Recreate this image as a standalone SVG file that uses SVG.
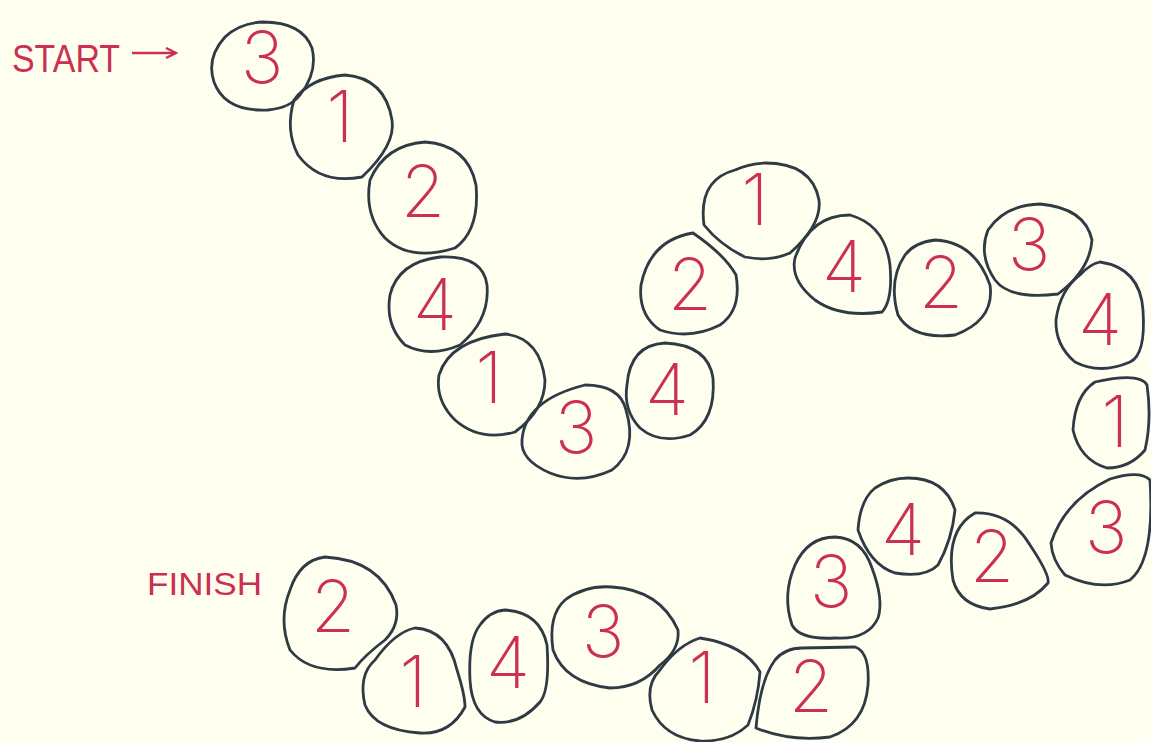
<svg xmlns="http://www.w3.org/2000/svg" width="1151" height="742" viewBox="0 0 1151 742">
<defs>
<style>
.bg{fill:#fffff0}
.st{fill:none;stroke:#2f3a44;stroke-width:2.8;stroke-linejoin:round;stroke-linecap:round}
.n{font-family:Inter,"Liberation Sans",sans-serif;font-weight:200;font-size:72px;fill:#cc2f4f;text-anchor:middle}
.lbl{font-family:"Liberation Sans",Arial,sans-serif;fill:#cc2f4f}
</style>
<marker id="ah" markerWidth="14" markerHeight="12" refX="12" refY="6" orient="auto" markerUnits="userSpaceOnUse">
<path d="M2 1 L12 6 L2 11" fill="none" stroke="#cc2f4f" stroke-width="2.4"/>
</marker>
</defs>
<rect class="bg" x="0" y="0" width="1151" height="742"/>
<g id="labels">
<text class="lbl" x="12" y="72" font-size="39" textLength="108" lengthAdjust="spacingAndGlyphs">START</text>
<text class="lbl" x="147" y="595" font-size="32" textLength="115" lengthAdjust="spacingAndGlyphs">FINISH</text>
</g>
<g id="connectors">
<line x1="132" y1="53" x2="176" y2="53" stroke="#cc2f4f" stroke-width="2.4" marker-end="url(#ah)"/>
</g>
<g id="s1"><path class="st" d="M263 22 Q302 22 312 48 Q318 72 300 95 Q290 108 268 110 Q225 112 214 82 Q206 58 225 37 Q240 23 263 22 Z"/><text class="n" x="262" y="83">3</text></g>
<g id="s2"><path class="st" d="M345 75 Q385 78 392 120 Q396 145 362 177 Q320 185 298 155 Q285 130 294 100 Q310 78 345 75 Z"/><text class="n" x="340" y="142">1</text></g>
<g id="s3"><path class="st" d="M425 142 Q468 145 476 185 Q480 230 455 248 Q410 262 385 238 Q364 215 370 180 Q385 145 425 142 Z"/><text class="n" x="423" y="217">2</text></g>
<g id="s4"><path class="st" d="M440 257 Q483 255 487 285 Q490 320 460 345 Q430 358 405 345 Q385 325 390 295 Q398 262 440 257 Z"/><text class="n" x="435" y="330">4</text></g>
<g id="s5"><path class="st" d="M505 334 Q540 338 545 380 Q545 410 515 432 Q480 442 455 420 Q435 400 439 375 Q450 340 505 334 Z"/><text class="n" x="489" y="403">1</text></g>
<g id="s6"><path class="st" d="M585 385 Q620 385 626 410 Q638 450 612 470 Q580 485 550 473 Q520 460 522 440 Q525 400 585 385 Z"/><text class="n" x="576" y="453">3</text></g>
<g id="s7"><path class="st" d="M665 343 Q708 345 713 378 Q716 420 690 435 Q660 445 640 428 Q623 410 627 385 Q630 345 665 343 Z"/><text class="n" x="667" y="415">4</text></g>
<g id="s8"><path class="st" d="M693 233 Q725 255 736 275 Q742 310 720 325 Q690 340 660 330 Q638 315 641 285 Q650 240 693 233 Z"/><text class="n" x="690" y="310">2</text></g>
<g id="s9"><path class="st" d="M765 163 Q812 163 819 200 Q822 225 790 253 Q770 262 745 257 Q720 245 704 225 Q698 180 735 170 Q748 164 765 163 Z"/><text class="n" x="755" y="225">1</text></g>
<g id="s10"><path class="st" d="M850 215 Q885 225 890 265 Q893 300 882 312 Q840 318 815 300 Q790 280 795 258 Q810 215 850 215 Z"/><text class="n" x="844" y="292">4</text></g>
<g id="s11"><path class="st" d="M935 240 Q975 242 990 285 Q995 320 955 335 Q912 340 898 315 Q888 280 905 255 Q915 242 935 240 Z"/><text class="n" x="941" y="308">2</text></g>
<g id="s12"><path class="st" d="M1040 204 Q1085 208 1092 240 Q1090 270 1058 294 Q1010 300 995 280 Q978 255 988 230 Q1005 205 1040 204 Z"/><text class="n" x="1029" y="270">3</text></g>
<g id="s13"><path class="st" d="M1100 262 Q1140 268 1143 310 Q1146 355 1130 362 Q1100 375 1075 362 Q1055 345 1056 320 Q1060 290 1080 275 Q1090 264 1100 262 Z"/><text class="n" x="1100" y="345">4</text></g>
<g id="s14"><path class="st" d="M1095 382 Q1140 372 1147 385 Q1152 420 1145 450 Q1130 468 1107 468 Q1080 460 1073 430 Q1075 395 1095 382 Z"/><text class="n" x="1115" y="447">1</text></g>
<g id="s15"><path class="st" d="M1110 479 Q1140 470 1150 480 Q1155 560 1130 580 Q1100 592 1065 575 Q1052 560 1051 543 Q1065 500 1110 479 Z"/><text class="n" x="1106" y="553">3</text></g>
<g id="s16"><path class="st" d="M975 513 Q1010 512 1030 545 Q1050 575 1048 583 Q1030 605 990 609 Q960 605 953 580 Q945 530 975 513 Z"/><text class="n" x="992" y="582">2</text></g>
<g id="s17"><path class="st" d="M908 478 Q945 478 955 510 Q952 540 938 565 Q925 578 895 573 Q870 565 858 530 Q860 500 875 488 Q890 478 908 478 Z"/><text class="n" x="903" y="555">4</text></g>
<g id="s18"><path class="st" d="M835 537 Q862 538 872 568 Q884 600 878 618 Q868 640 835 638 Q800 640 792 625 Q782 595 795 565 Q808 537 835 537 Z"/><text class="n" x="831" y="607">3</text></g>
<g id="s19"><path class="st" d="M802 648 L855 647 Q870 652 868 685 Q865 725 830 737 Q790 742 756 728 Q760 680 775 660 Q785 648 802 648 Z"/><text class="n" x="811" y="712">2</text></g>
<g id="s20"><path class="st" d="M700 638 Q745 645 760 672 Q758 700 748 725 Q730 742 700 741 Q665 738 652 710 Q645 685 660 670 Q678 645 700 638 Z"/><text class="n" x="702" y="703">1</text></g>
<g id="s21"><path class="st" d="M612 587 Q660 590 678 630 Q680 650 660 665 Q640 688 610 688 Q565 683 553 650 Q548 615 565 600 Q585 585 612 587 Z"/><text class="n" x="603" y="657">3</text></g>
<g id="s22"><path class="st" d="M505 610 Q540 612 547 645 Q550 690 540 702 Q520 725 495 722 Q472 715 470 680 Q468 640 480 625 Q490 611 505 610 Z"/><text class="n" x="508" y="688">4</text></g>
<g id="s23"><path class="st" d="M415 628 Q448 630 457 670 Q465 695 465 707 Q450 735 420 733 Q375 730 365 705 Q358 675 375 660 Q395 632 415 628 Z"/><text class="n" x="413" y="707">1</text></g>
<g id="s24"><path class="st" d="M325 557 Q380 560 396 605 Q400 625 385 640 Q365 655 355 668 Q310 675 290 650 Q278 620 290 590 Q300 560 325 557 Z"/><text class="n" x="333" y="632">2</text></g>
</svg>
